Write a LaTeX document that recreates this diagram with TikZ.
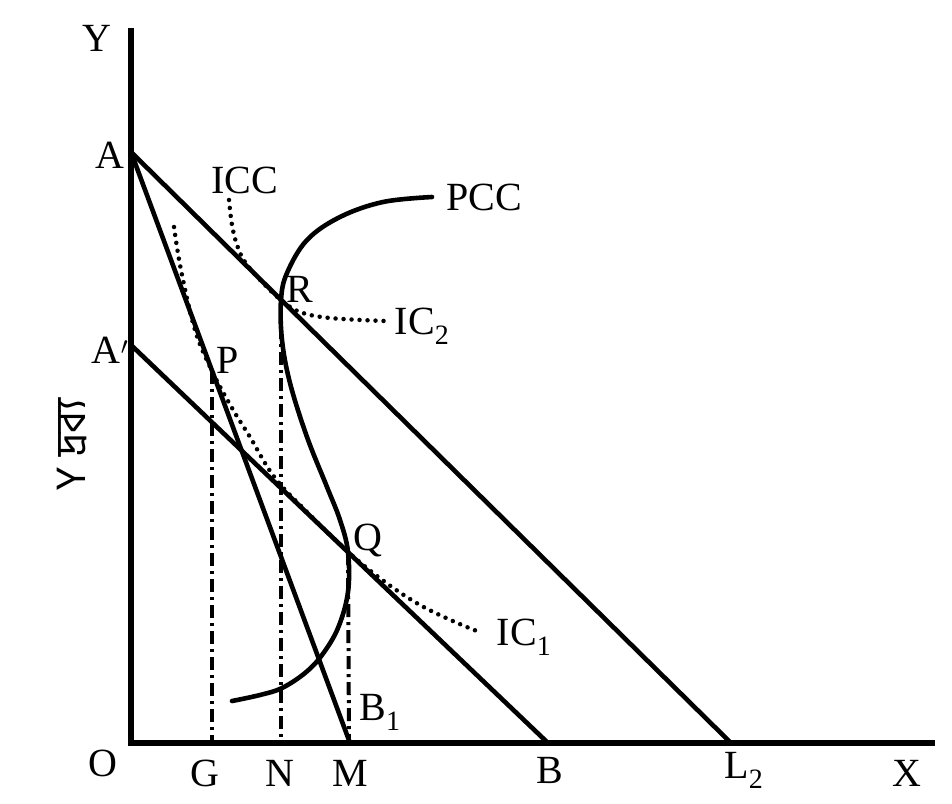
\documentclass[tikz,border=0pt]{standalone}
\usepackage{fontspec}
\setmainfont{Liberation Serif}
\newfontfamily\bengfont[Script=Bengali]{Hind Siliguri}
\begin{document}
\begin{tikzpicture}[x=1pt,y=-1pt,
  axis/.style={line width=5.5pt},
  budget/.style={line width=4.6pt},
  curve/.style={line width=4.6pt, line cap=round},
  icdot/.style={line width=4.5pt, dash pattern=on 0pt off 8pt, line cap=round},
  dropline/.style={line width=4pt, dash pattern=on 13pt off 5pt on 3pt off 5pt},
  lbl/.style={font=\fontsize{40}{42}\selectfont, inner sep=0pt}]
\useasboundingbox (0,0) rectangle (952,803);
% key points
\coordinate (O) at (131,743);
\coordinate (Ytop) at (131,28);
\coordinate (Xend) at (935,743);
\coordinate (A) at (131,152);
\coordinate (A1) at (131,345);
\coordinate (B) at (548,743);
\coordinate (L2) at (731,743);
\coordinate (M) at (350,743);
\coordinate (N) at (281,743);
\coordinate (G) at (212,743);
\coordinate (R) at (281,300);
\coordinate (P) at (212,371);
\coordinate (Q) at (348,552);
\coordinate (Qb) at (349,743);
% axes
\draw[axis] (Ytop) -- (O) -- (Xend);
% budget lines
\draw[budget] (A) -- (L2);
\draw[budget] (A) -- (M);
\draw[budget] (A1) -- (B);
% drop lines
\draw[dropline] (P) -- (G);
\draw[dropline] (R) -- (N);
\draw[dropline] (Q) -- (Qb);
% PCC
\draw[curve] plot[smooth, tension=0.6] coordinates {(232,701) (260,695) (282,688) (305,673) (322,655) (338,628) (348,592) (348,552) (340,520) (327,487) (307,437) (290,383) (282,340) (281,300) (287,273) (307,240) (340,217) (383,202) (432,197)};
% indifference curves (dotted)
\draw[icdot] plot[smooth, tension=0.6] coordinates {(174,227) (181,270) (195,330) (212,371) (232,408) (250,437) (275,478) (310,515) (348,552) (385,582) (420,605) (455,622) (482,633)};
\draw[icdot] plot[smooth, tension=0.6] coordinates {(229,200) (232,225) (237,245) (245,262) (262,282) (281,300) (300,312) (330,318) (385,321)};
% labels
\node[lbl] (lY) at (97,38) {Y};
\node[lbl] (lA) at (110,155) {A};
\node[lbl] (lA1) at (110,350) {A$'$};
\node[lbl] (lO) at (103,763) {O};
\node[lbl] (lG) at (205,773) {G};
\node[lbl] (lN) at (280,773) {N};
\node[lbl] (lM) at (350,773) {M};
\node[lbl] (lB) at (550,770) {B};
\node[lbl] (lL2) at (744,770) {L\textsubscript{2}};
\node[lbl] (lX) at (907,773) {X};
\node[lbl] (lICC) at (245,180) {ICC};
\node[lbl] (lPCC) at (484,197) {PCC};
\node[lbl] (lR) at (300,289) {R};
\node[lbl] (lIC2) at (422,326) {IC\textsubscript{2}};
\node[lbl] (lP) at (228,360) {P};
\node[lbl] (lQ) at (368,540) {Q};
\node[lbl] (lIC1) at (524,637) {IC\textsubscript{1}};
\node[lbl] (lB1) at (380,712) {B\textsubscript{1}};
\node[inner sep=0pt, rotate=90, font=\fontsize{42}{44}\selectfont] (lYgood) at (72,445) {\bengfont Y দ্রব্য};
\end{tikzpicture}
\end{document}
